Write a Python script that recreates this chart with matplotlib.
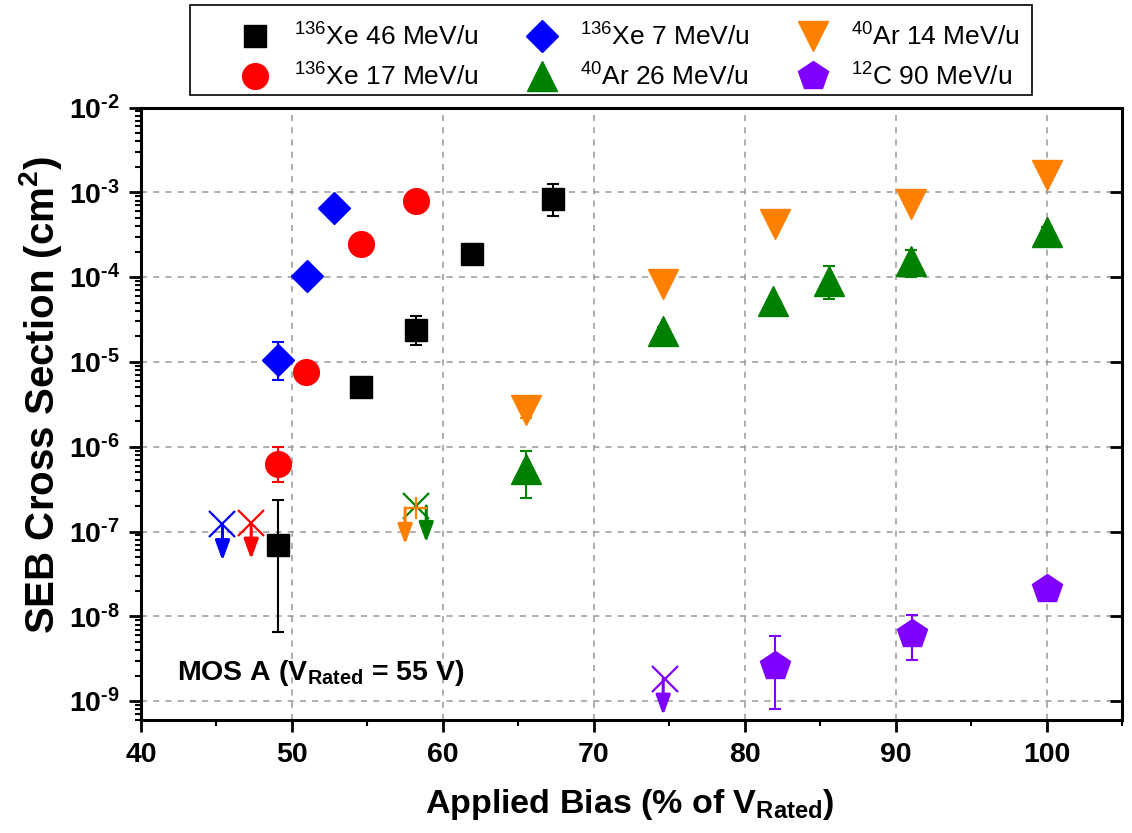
import matplotlib
matplotlib.use("Agg")
import matplotlib.pyplot as plt
from matplotlib.lines import Line2D
from matplotlib.patches import Rectangle
from matplotlib.ticker import FixedLocator, FuncFormatter, LogLocator, NullFormatter, MultipleLocator
import numpy as np

plt.rcParams['font.family'] = ['Liberation Sans', 'DejaVu Sans']
plt.rcParams['mathtext.fontset'] = 'custom'
plt.rcParams['mathtext.rm'] = 'Liberation Sans'
plt.rcParams['mathtext.bf'] = 'Liberation Sans:bold'
plt.rcParams['mathtext.it'] = 'Liberation Sans:italic'

# ---------------- data ----------------
xe46_x = [49.1, 54.6, 58.2, 61.9, 67.3]
xe46_y = [6.9e-8, 5.1e-6, 2.4e-5, 1.85e-4, 8.3e-4]
xe46_lo = [6.6e-9, 5.1e-6, 1.6e-5, 1.85e-4, 5.2e-4]
xe46_hi = [2.35e-7, 5.1e-6, 3.5e-5, 1.85e-4, 1.25e-3]

xe7_x = [49.1, 51.0, 52.8]
xe7_y = [1.05e-5, 1.02e-4, 6.5e-4]
xe7_lo = [6.2e-6, 1.02e-4, 6.5e-4]
xe7_hi = [1.7e-5, 1.02e-4, 6.5e-4]

xe17_x = [49.1, 50.9, 54.6, 58.2]
xe17_y = [6.3e-7, 7.7e-6, 2.45e-4, 7.8e-4]
xe17_lo = [3.8e-7, 7.7e-6, 2.45e-4, 7.8e-4]
xe17_hi = [9.9e-7, 7.7e-6, 2.45e-4, 7.8e-4]

ar14_x = [65.5, 74.6, 82.0, 91.0, 100.0]
ar14_y = [2.7e-6, 8.2e-5, 4.2e-4, 7.3e-4, 1.6e-3]
ar14_lo = [2.2e-6, 8.2e-5, 4.2e-4, 7.3e-4, 1.6e-3]
ar14_hi = [3.0e-6, 8.2e-5, 4.2e-4, 7.3e-4, 1.6e-3]

ar26_x = [65.5, 74.6, 81.9, 85.6, 91.0, 100.0]
ar26_y = [5.5e-7, 2.3e-5, 5.2e-5, 9.0e-5, 1.55e-4, 3.45e-4]
ar26_lo = [2.5e-7, 1.6e-5, 5.2e-5, 5.5e-5, 1.0e-4, 3.0e-4]
ar26_hi = [9.0e-7, 2.6e-5, 5.2e-5, 1.35e-4, 2.1e-4, 3.9e-4]

c90_x = [82.0, 91.1, 100.0]
c90_y = [2.6e-9, 6.2e-9, 2.1e-8]
c90_lo = [8.0e-10, 3.1e-9, 2.1e-8]
c90_hi = [5.8e-9, 1.05e-8, 2.1e-8]

# upper limits (no event observed)
lim_x = [45.4, 47.3, 58.2, 58.2, 74.7]
lim_y = [1.22e-7, 1.27e-7, 2.0e-7, 1.9e-7, 1.84e-9]
lim_arrow_x = [45.4, 47.3, 58.9, 57.5, 74.6]
lim_series = ['xe7', 'xe17', 'ar26', 'ar14', 'c90']

labels = {
    'xe46': r'$^{136}$Xe 46 MeV/u',
    'xe17': r'$^{136}$Xe 17 MeV/u',
    'xe7': r'$^{136}$Xe 7 MeV/u',
    'ar26': r'$^{40}$Ar 26 MeV/u',
    'ar14': r'$^{40}$Ar 14 MeV/u',
    'c90': r'$^{12}$C 90 MeV/u',
}

x_ticks = [40, 50, 60, 70, 80, 90, 100]
y_exps = [-9, -8, -7, -6, -5, -4, -3, -2]

# ---------------- style ----------------
colors = {'xe46': '#000000', 'xe17': '#FF0000', 'xe7': '#0000FF',
          'ar26': '#008000', 'ar14': '#FF8000', 'c90': '#8000FF'}
markers = {'xe46': 's', 'xe17': 'o', 'xe7': 'D', 'ar26': '^', 'ar14': 'v', 'c90': 'p'}
msizes = {'xe46': 16, 'xe17': 18.5, 'xe7': 16.5, 'ar26': 21, 'ar14': 21, 'c90': 22}
lim_marker = {'xe7': 'x', 'xe17': 'x', 'ar26': 'x', 'ar14': '+', 'c90': 'x'}

W, H = 1132, 833
fig = plt.figure(figsize=(W / 100, H / 100), dpi=100)
ax = fig.add_axes([141 / W, 1 - 720 / H, 981 / W, 612.5 / H])

series = {
    'xe46': (xe46_x, xe46_y, xe46_lo, xe46_hi),
    'xe7': (xe7_x, xe7_y, xe7_lo, xe7_hi),
    'xe17': (xe17_x, xe17_y, xe17_lo, xe17_hi),
    'ar14': (ar14_x, ar14_y, ar14_lo, ar14_hi),
    'ar26': (ar26_x, ar26_y, ar26_lo, ar26_hi),
    'c90': (c90_x, c90_y, c90_lo, c90_hi),
}

for key, (xs, ys, lo, hi) in series.items():
    ys_a = np.array(ys)
    yerr = [ys_a - np.array(lo), np.array(hi) - ys_a]
    ax.errorbar(xs, ys, yerr=yerr, fmt=markers[key], color=colors[key],
                ms=msizes[key], mec=colors[key], capsize=4.5, elinewidth=1.5,
                capthick=1.5, zorder=3)

arrow_len = 0.43  # decades
for x, y, xa, key in zip(lim_x, lim_y, lim_arrow_x, lim_series):
    c = colors[key]
    ms = 19 if lim_marker[key] == 'x' else 16
    ax.plot([x], [y], marker=lim_marker[key], color=c, ms=ms, mew=1.6,
            linestyle='none', zorder=4)
    ax.annotate('', xy=(xa, y * 10 ** (-arrow_len)), xytext=(xa, y),
                arrowprops=dict(arrowstyle='-|>,head_length=0.6,head_width=0.22',
                                color=c, lw=2.2, shrinkA=0, shrinkB=0,
                                mutation_scale=20), zorder=4)

ax.set_yscale('log')
ax.set_xlim(40, 105)
ax.set_ylim(6.0e-10, 1e-2)

ax.xaxis.set_major_locator(FixedLocator(x_ticks))
ax.xaxis.set_minor_locator(MultipleLocator(5))
ax.xaxis.set_major_formatter(FuncFormatter(lambda v, p: '%d' % v))

ax.yaxis.set_major_locator(FixedLocator([10.0 ** e for e in y_exps]))
ax.yaxis.set_minor_locator(LogLocator(base=10, subs=np.arange(2, 10), numticks=30))
ax.yaxis.set_minor_formatter(NullFormatter())
ax.yaxis.set_major_formatter(FuncFormatter(
    lambda v, p: '$\\mathbf{10^{\u2010%d}}$' % int(round(-np.log10(v)))))

ax.tick_params(which='major', direction='out', length=8.5, width=2)
ax.tick_params(which='minor', direction='out', length=4.5, width=1.5)
ax.tick_params(axis='both', labelsize=20.5)
ax.tick_params(axis='x', pad=7)
ax.tick_params(axis='y', pad=6.5)
ax.tick_params(axis='y', which='major', right=True, labelright=False)
for lab in ax.get_xticklabels() + ax.get_yticklabels():
    lab.set_fontweight('bold')
for s in ax.spines.values():
    s.set_linewidth(2.2)
# right-side ticks point inward
for t in ax.yaxis.get_major_ticks():
    t.tick2line.set_marker(matplotlib.lines.TICKLEFT)

ax.grid(True, which='major', linestyle=(0, (4, 4)), color='#999999', linewidth=1.1)
ax.set_axisbelow(True)

fig.text(629.5 / W, 1 - 813 / H, r'Applied Bias (% of V$_{\mathbf{Rated}}$)',
         fontsize=24.5, fontweight='bold', ha='center', va='baseline')
fig.text(41 / W, 1 - 394.5 / H, r'SEB Cross Section (cm$^{\mathbf{2}}$)',
         fontsize=29, fontweight='bold', ha='center', va='center', rotation=90)

ax.text((177 - 141) / 981, (720 - 680) / 612.5, r'MOS A (V$_{\mathbf{Rated}}$ = 55 V)',
        transform=ax.transAxes, fontsize=20.5, fontweight='bold',
        va='baseline', ha='left')

# legend box
fig.patches.append(Rectangle((190 / W, 1 - 95 / H), 842 / W, 90 / H,
                             transform=fig.transFigure, fill=False,
                             edgecolor='black', linewidth=1.2, zorder=5))
order = ['xe46', 'xe17', 'xe7', 'ar26', 'ar14', 'c90']
handles = [Line2D([], [], marker=markers[k], color=colors[k], ms=msizes[k],
                  linestyle='none') for k in order]
leg = fig.legend(handles, [labels[k] for k in order], ncol=3,
                 loc='upper left', bbox_to_anchor=(229 / W, 1 - 23 / H),
                 fontsize=19, frameon=False, borderpad=0, borderaxespad=0,
                 handletextpad=0.45, labelspacing=0.5, handlelength=2.0,
                 columnspacing=1.4)

fig.savefig('out.png', dpi=100)
